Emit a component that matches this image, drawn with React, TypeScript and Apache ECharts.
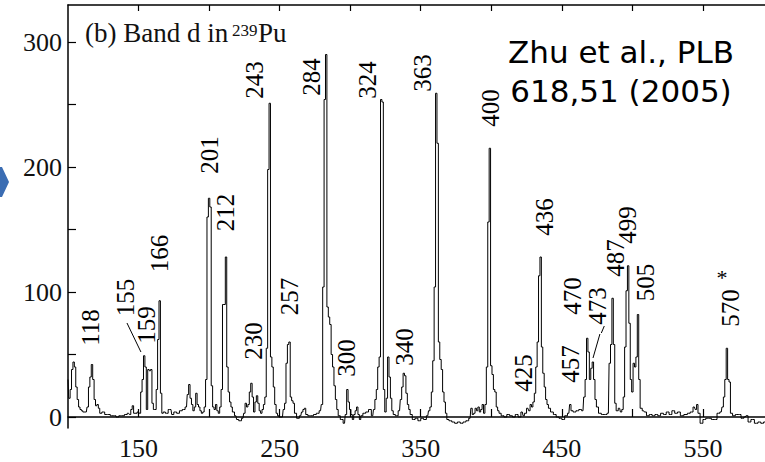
import { useEffect, useRef } from 'react';
import * as echarts from 'echarts';

// Gamma-ray spectrum: [energy keV, counts]
const spectrum: [number, number][] = [
  [100, 30], [101, 15], [102, 22], [103, 38], [104, 44], [105, 40], [106, 24], [107, 14], [108, 8], [109, 6],
  [110, 5], [111, 4], [113, 4], [114, 8], [115, 24], [116, 32], [117, 42], [118, 30], [119, 14], [120, 9],
  [121, 10], [122, 7], [123, 3], [125, 4], [127, 2], [129, 2], [131, 1], [133, 1], [135, 0], [137, 1],
  [139, 1], [141, 2], [143, 3], [144, 2], [145, 6], [146, 9], [147, 3], [148, 3], [150, 4], [151, 3],
  [152, 20], [153, 30], [154, 49], [155, 40], [156, 6], [157, 38], [158, 37], [159, 38], [160, 11], [161, 6],
  [162, 6], [163, 22], [164, 62], [165, 93], [166, 19], [167, 3], [168, 4], [170, 3], [172, 6], [173, 6],
  [174, 2], [176, 4], [178, 3], [180, 5], [182, 6], [184, 8], [185, 18], [186, 26], [187, 15], [188, 10],
  [189, 5], [190, 8], [191, 19], [192, 10], [193, 8], [194, 5], [195, 3], [196, 4], [197, 8], [198, 30],
  [199, 160], [200, 175], [201, 168], [202, 25], [203, 8], [204, 6], [205, 10], [206, 5], [207, 3], [208, 8],
  [209, 22], [210, 90], [211, 90], [212, 128], [213, 40], [214, 20], [215, 12], [216, 8], [217, 4], [219, 1],
  [220, -2], [222, -3], [224, -1], [225, 3], [226, 11], [227, 8], [228, 10], [229, 20], [230, 27], [231, 16],
  [232, 4], [233, 12], [234, 17], [235, 11], [236, 5], [237, 3], [238, 6], [239, 10], [240, 16], [241, 55],
  [242, 198], [243, 251], [244, 48], [245, 40], [246, 24], [247, 10], [248, 3], [249, 1], [250, 0], [252, 0],
  [253, 6], [254, 11], [255, 43], [256, 58], [257, 60], [258, 16], [259, 13], [260, 11], [261, 3], [263, -1],
  [265, 1], [266, 4], [267, 6], [268, 7], [269, 2], [271, 1], [273, 1], [275, 2], [277, 3], [279, 5],
  [280, 10], [281, 104], [282, 254], [283, 290], [284, 88], [285, 80], [286, 74], [287, 50], [288, 40], [289, 25],
  [290, 14], [291, 6], [292, 1], [294, -2], [296, -5], [297, 2], [298, 22], [299, 12], [300, 6], [301, 2],
  [302, -2], [303, 2], [304, 5], [305, 8], [306, 2], [307, -2], [308, 1], [310, 3], [312, 4], [314, 6],
  [316, 1], [317, 6], [318, 14], [319, 22], [320, 40], [321, 48], [322, 254], [323, 252], [324, 22], [325, 4],
  [326, 15], [327, 48], [328, 32], [329, 15], [330, 5], [331, 2], [333, 1], [335, 5], [336, 14], [337, 24],
  [338, 35], [339, 33], [340, 19], [341, 10], [342, 6], [343, 2], [345, -2], [347, -1], [349, -3], [351, -1],
  [353, -2], [355, 1], [356, 5], [357, 8], [358, 20], [359, 45], [360, 104], [361, 259], [362, 219], [363, 60],
  [364, 46], [365, 38], [366, 20], [367, 12], [368, 3], [369, -2], [371, -3], [373, -4], [375, -5], [377, -4],
  [379, -5], [381, -4], [383, -3], [385, -1], [386, 7], [387, 2], [388, 3], [389, 7], [390, 5], [391, 8],
  [392, 4], [393, 6], [394, 10], [395, 3], [396, 10], [397, 40], [398, 156], [399, 215], [400, 41], [401, 34],
  [402, 22], [403, 20], [404, 8], [405, 5], [406, 3], [408, 1], [410, 0], [412, 2], [414, 1], [416, 0],
  [418, 2], [420, 0], [422, 4], [423, 1], [424, 3], [426, 7], [427, 5], [428, 10], [429, 8], [430, 12],
  [431, 19], [432, 40], [433, 60], [434, 113], [435, 128], [436, 56], [437, 35], [438, 24], [439, 14], [440, 10],
  [441, 7], [443, 4], [445, 2], [447, 0], [449, -1], [451, -2], [453, 1], [455, 3], [456, 10], [457, 5],
  [459, 4], [461, 5], [463, 6], [465, 5], [466, 16], [467, 30], [468, 63], [469, 52], [470, 30], [471, 39],
  [472, 44], [473, 30], [474, 14], [475, 8], [477, 3], [479, 2], [481, 2], [483, 3], [484, 43], [485, 58],
  [486, 95], [487, 58], [488, 11], [489, 5], [491, 7], [492, 4], [493, 6], [494, 16], [495, 56], [496, 101],
  [497, 121], [498, 75], [499, 30], [500, 20], [501, 43], [502, 40], [503, 48], [504, 82], [505, 30], [506, 7],
  [508, 5], [509, 4], [511, 1], [513, 2], [515, 1], [517, 2], [519, 1], [521, 3], [523, 2], [525, 4],
  [527, 2], [529, 5], [531, 3], [533, 4], [535, 1], [538, 2], [540, 3], [542, 4], [544, 8], [545, 6],
  [546, 10], [547, 3], [549, -5], [551, -2], [553, -1], [555, -1], [557, -2], [559, -2], [561, 3], [563, 4],
  [564, 8], [565, 16], [566, 30], [567, 55], [568, 30], [569, 28], [570, 3], [572, 1], [574, 2], [576, 2],
  [578, -1], [580, 0], [581, 1], [583, -4], [585, -2], [588, -5], [590, -4], [592, -5], [594, -4], [596, -5],
  [600, -5],
];

// Peak annotations: [text, energy, counts] (centre of rotated label)
const peakLabels: [string, number, number][] = [
  ['118', 116.3, 71.6], ['155', 140.4, 95.6], ['159', 155.3, 73.6], ['166', 165.2, 130.8],
  ['201', 200.6, 209.6], ['212', 211.3, 163.6], ['230', 231.8, 60.8], ['243', 232.5, 269.6],
  ['257', 257.3, 96.4], ['284', 272.9, 272], ['300', 297.7, 47.2], ['324', 312.6, 269.6],
  ['340', 338.8, 56], ['363', 350.9, 275.2], ['400', 399.8, 247.2], ['425', 422.5, 35.2],
  ['436', 437.4, 160], ['457', 455.8, 42.4], ['470', 457.9, 96.8], ['473', 475.6, 88.8],
  ['487', 487.7, 127.2], ['499', 496.9, 153.6], ['505', 509.6, 107.6], ['570', 569.2, 87.2],
];
const starMark: [string, number, number] = ['*', 563.5, 112];

// Leader lines: [[e1, c1], [e2, c2]]
const leaders: [[number, number], [number, number]][] = [
  [[141.8, 75.2], [151.7, 52]],
  [[477, 66.4], [472.1, 47.2]],
  [[480.1, 72.8], [478, 67.2]],
];

const xTicks = [150, 200, 250, 300, 350, 400, 450, 500, 550];
const xTickLabels = [150, 250, 350, 450, 550];
const yTicks = [0, 50, 100, 150, 200, 250, 300];
const yTickLabels = [0, 100, 200, 300];

const SERIF = 'Liberation Serif';

export default function App() {
  const ref = useRef<HTMLDivElement>(null);
  useEffect(() => {
    const chart = echarts.init(ref.current!, null, { renderer: 'svg' });
    const axisBase = {
      type: 'value',
      min: 100,
      max: 594,
      axisLine: { show: true, lineStyle: { color: '#000', width: 1.5 } },
      splitLine: { show: false },
    };
    const staticGraphics: any[] = [
      {
        type: 'polygon',
        shape: { points: [[0, 167], [2, 167], [9, 182], [2, 197], [0, 197]] },
        style: { fill: '#3b6db3' },
      },
      {
        type: 'text',
        x: 85,
        y: 33,
        style: { text: '(b) Band d in', font: `27px ${SERIF}`, fill: '#111', verticalAlign: 'middle', align: 'left' },
      },
      {
        type: 'text',
        x: 232,
        y: 30,
        style: { text: '239', font: `17px ${SERIF}`, fill: '#111', verticalAlign: 'middle', align: 'left' },
      },
      {
        type: 'text',
        x: 258,
        y: 33,
        style: { text: 'Pu', font: `27px ${SERIF}`, fill: '#111', verticalAlign: 'middle', align: 'left' },
      },
      {
        type: 'text',
        x: 621,
        y: 52,
        style: { text: 'Zhu et al., PLB', font: '31px "DejaVu Sans"', fill: '#000', verticalAlign: 'middle', align: 'center' },
      },
      {
        type: 'text',
        x: 621,
        y: 91,
        style: { text: '618,51 (2005)', font: '31px "DejaVu Sans"', fill: '#000', verticalAlign: 'middle', align: 'center' },
      },
    ];
    chart.setOption({
      animation: false,
      backgroundColor: '#fff',
      grid: { left: 68, top: 5, right: 0, height: 423, containLabel: false },
      xAxis: [
        {
          ...axisBase,
          position: 'bottom',
          axisTick: { show: true, inside: true, length: 8, customValues: xTicks, lineStyle: { color: '#000', width: 1.2 } },
          axisLabel: { show: true, customValues: xTickLabels, margin: 7, fontSize: 26, fontFamily: SERIF, color: '#111' },
        },
        {
          ...axisBase,
          position: 'top',
          axisTick: { show: true, inside: true, length: 6, customValues: xTicks, lineStyle: { color: '#000', width: 1.2 } },
          axisLabel: { show: false },
        },
      ],
      yAxis: {
        type: 'value',
        min: -8.8,
        max: 329.6,
        axisLine: { show: true, lineStyle: { color: '#000', width: 1.5 } },
        splitLine: { show: false },
        axisTick: { show: true, inside: true, length: 8, customValues: yTicks, lineStyle: { color: '#000', width: 1.2 } },
        axisLabel: { show: true, customValues: yTickLabels, margin: 6, fontSize: 26, fontFamily: SERIF, color: '#111' },
      },
      series: [
        {
          type: 'line',
          data: spectrum,
          step: 'middle',
          showSymbol: false,
          symbol: 'none',
          lineStyle: { color: '#000', width: 1 },
          clip: true,
          silent: true,
          markLine: {
            silent: true,
            symbol: ['none', 'none'],
            label: { show: false },
            lineStyle: { color: '#000', width: 1, type: 'solid', opacity: 1 },
            data: leaders.map(([a, b]) => [{ coord: a }, { coord: b }]),
          },
        },
      ],
      graphic: staticGraphics,
    });

    // Peak labels placed through the axes' own scales
    const labelGraphics = peakLabels.map(([t, e, c]) => {
      const [px, py] = chart.convertToPixel({ gridIndex: 0 }, [e, c]) as number[];
      return {
        type: 'text',
        x: px,
        y: py,
        rotation: Math.PI / 2,
        style: { text: t, font: `25px ${SERIF}`, fill: '#000', align: 'center', verticalAlign: 'middle' },
      };
    });
    const [sx, sy] = chart.convertToPixel({ gridIndex: 0 }, [starMark[1], starMark[2]]) as number[];
    labelGraphics.push({
      type: 'text',
      x: sx,
      y: sy,
      rotation: 0,
      style: { text: starMark[0], font: `22px ${SERIF}`, fill: '#000', align: 'center', verticalAlign: 'middle' },
    });
    chart.setOption({ graphic: [...staticGraphics, ...labelGraphics] });

    return () => chart.dispose();
  }, []);
  return <div ref={ref} style={{ width: 765, height: 462, position: 'absolute', left: 0, top: 0 }} />;
}
